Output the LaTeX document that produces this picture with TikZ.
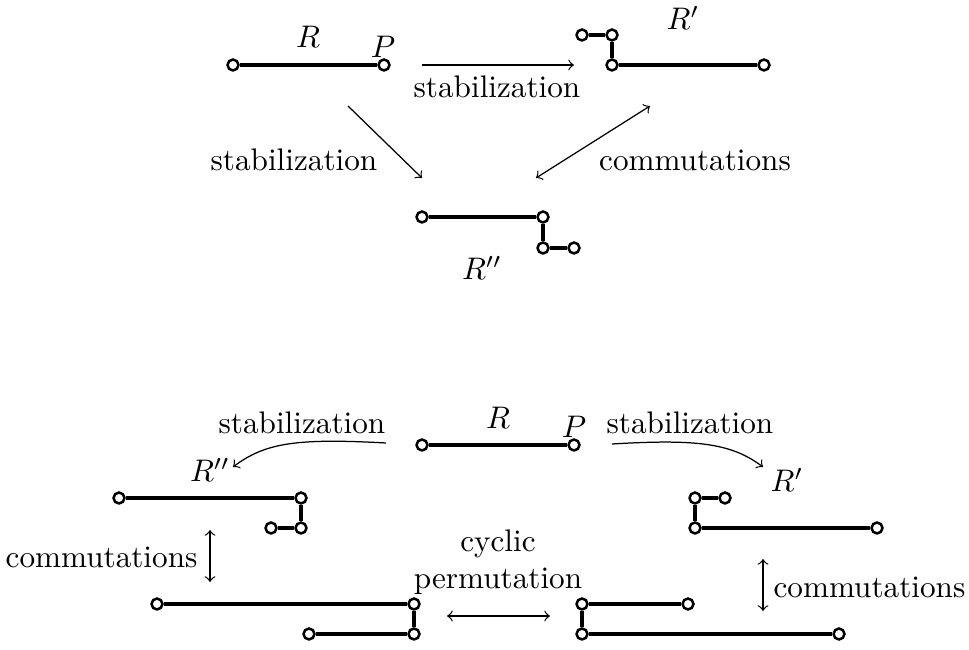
\documentclass[tikz,border=0pt]{standalone}
\begin{document}
\tikzset{
  pt/.style={circle,draw,fill=white,line width=0.8pt,inner sep=0pt,minimum size=3.5pt},
  seg/.style={line width=1.3pt},
  arr/.style={->,line width=0.4pt},
  darr/.style={<->,line width=0.4pt},
  lbl/.style={inner sep=0pt},
}
\begin{tikzpicture}[x=0.3205pt,y=-0.3205pt]
\useasboundingbox (0,0) rectangle (969,650);
% ---------- top diagram ----------
% R
\node[pt] (a1) at (233,65) {};
\node[pt] (a2) at (384,65) {};
\draw[seg] (a1) -- (a2);
\node[lbl] (aR) at (308,37) {$R$};
\node[lbl] (aP) at (383,47) {$P$};
% R'
\node[pt] (b1) at (582,35) {};
\node[pt] (b2) at (612,35) {};
\node[pt] (b3) at (612,65) {};
\node[pt] (b4) at (764,65) {};
\draw[seg] (b1) -- (b2) -- (b3) -- (b4);
\node[lbl] (bR) at (683,18) {$R'$};
% R''
\node[pt] (c1) at (422,217) {};
\node[pt] (c2) at (543,217) {};
\node[pt] (c3) at (543,248) {};
\node[pt] (c4) at (574,248) {};
\draw[seg] (c1) -- (c2) -- (c3) -- (c4);
\node[lbl] (cR) at (482,268) {$R''$};
% arrows
\coordinate (h1) at (422,65);
\coordinate (h2) at (574,65);
\draw[arr] (h1) -- (h2);
\node[lbl] (hs) at (497,87) {stabilization};
\coordinate (d1) at (348,106);
\coordinate (d2) at (422,178);
\draw[arr] (d1) -- (d2);
\node[lbl] (ds) at (294,160) {stabilization};
\coordinate (e1) at (536,178);
\coordinate (e2) at (650,106);
\draw[darr] (e1) -- (e2);
\node[lbl] (ec) at (695,160) {commutations};
% ---------- bottom diagram ----------
% R
\node[pt] (f1) at (422,445) {};
\node[pt] (f2) at (574,445) {};
\draw[seg] (f1) -- (f2);
\node[lbl] (fR) at (498,418) {$R$};
\node[lbl] (fP) at (574,427) {$P$};
% R'' left
\node[pt] (g1) at (119,498) {};
\node[pt] (g2) at (301,498) {};
\node[pt] (g3) at (301,528) {};
\node[pt] (g4) at (271,528) {};
\draw[seg] (g1) -- (g2) -- (g3) -- (g4);
\node[lbl] (gR) at (210,470) {$R''$};
% left lower
\node[pt] (k1) at (157,604) {};
\node[pt] (k2) at (414,604) {};
\node[pt] (k3) at (414,634) {};
\node[pt] (k4) at (309,634) {};
\draw[seg] (k1) -- (k2) -- (k3) -- (k4);
% R' right
\node[pt] (i1) at (725,498) {};
\node[pt] (i2) at (695,498) {};
\node[pt] (i3) at (695,528) {};
\node[pt] (i4) at (877,528) {};
\draw[seg] (i1) -- (i2) -- (i3) -- (i4);
\node[lbl] (iR) at (787,480) {$R'$};
% right lower
\node[pt] (j1) at (688,604) {};
\node[pt] (j2) at (582,604) {};
\node[pt] (j3) at (582,634) {};
\node[pt] (j4) at (839,634) {};
\draw[seg] (j1) -- (j2) -- (j3) -- (j4);
% curved stabilization arrows
\coordinate (ls) at (386,443);
\coordinate (le) at (233,467);
\draw[arr] (ls) .. controls +(-90,-5) and +(32,-24) .. (le);
\node[lbl] (lst) at (302,423) {stabilization};
\coordinate (rs) at (612,444);
\coordinate (re) at (763,467);
\draw[arr] (rs) .. controls +(84,-5) and +(-32,-24) .. (re);
\node[lbl] (rst) at (690,423) {stabilization};
% commutations
\coordinate (lc1) at (210,530);
\coordinate (lc2) at (210,582);
\draw[darr] (lc1) -- (lc2);
\node[lbl,anchor=east] (lct) at (198,557) {commutations};
\coordinate (rc1) at (763,559);
\coordinate (rc2) at (763,611);
\draw[darr] (rc1) -- (rc2);
\node[lbl,anchor=west] (rct) at (773,587) {commutations};
% cyclic permutation
\coordinate (p1) at (447,616);
\coordinate (p2) at (550,616);
\draw[darr] (p1) -- (p2);
\node[lbl,align=center] (pt) at (498,562) {cyclic\\permutation};
\end{tikzpicture}
\end{document}
